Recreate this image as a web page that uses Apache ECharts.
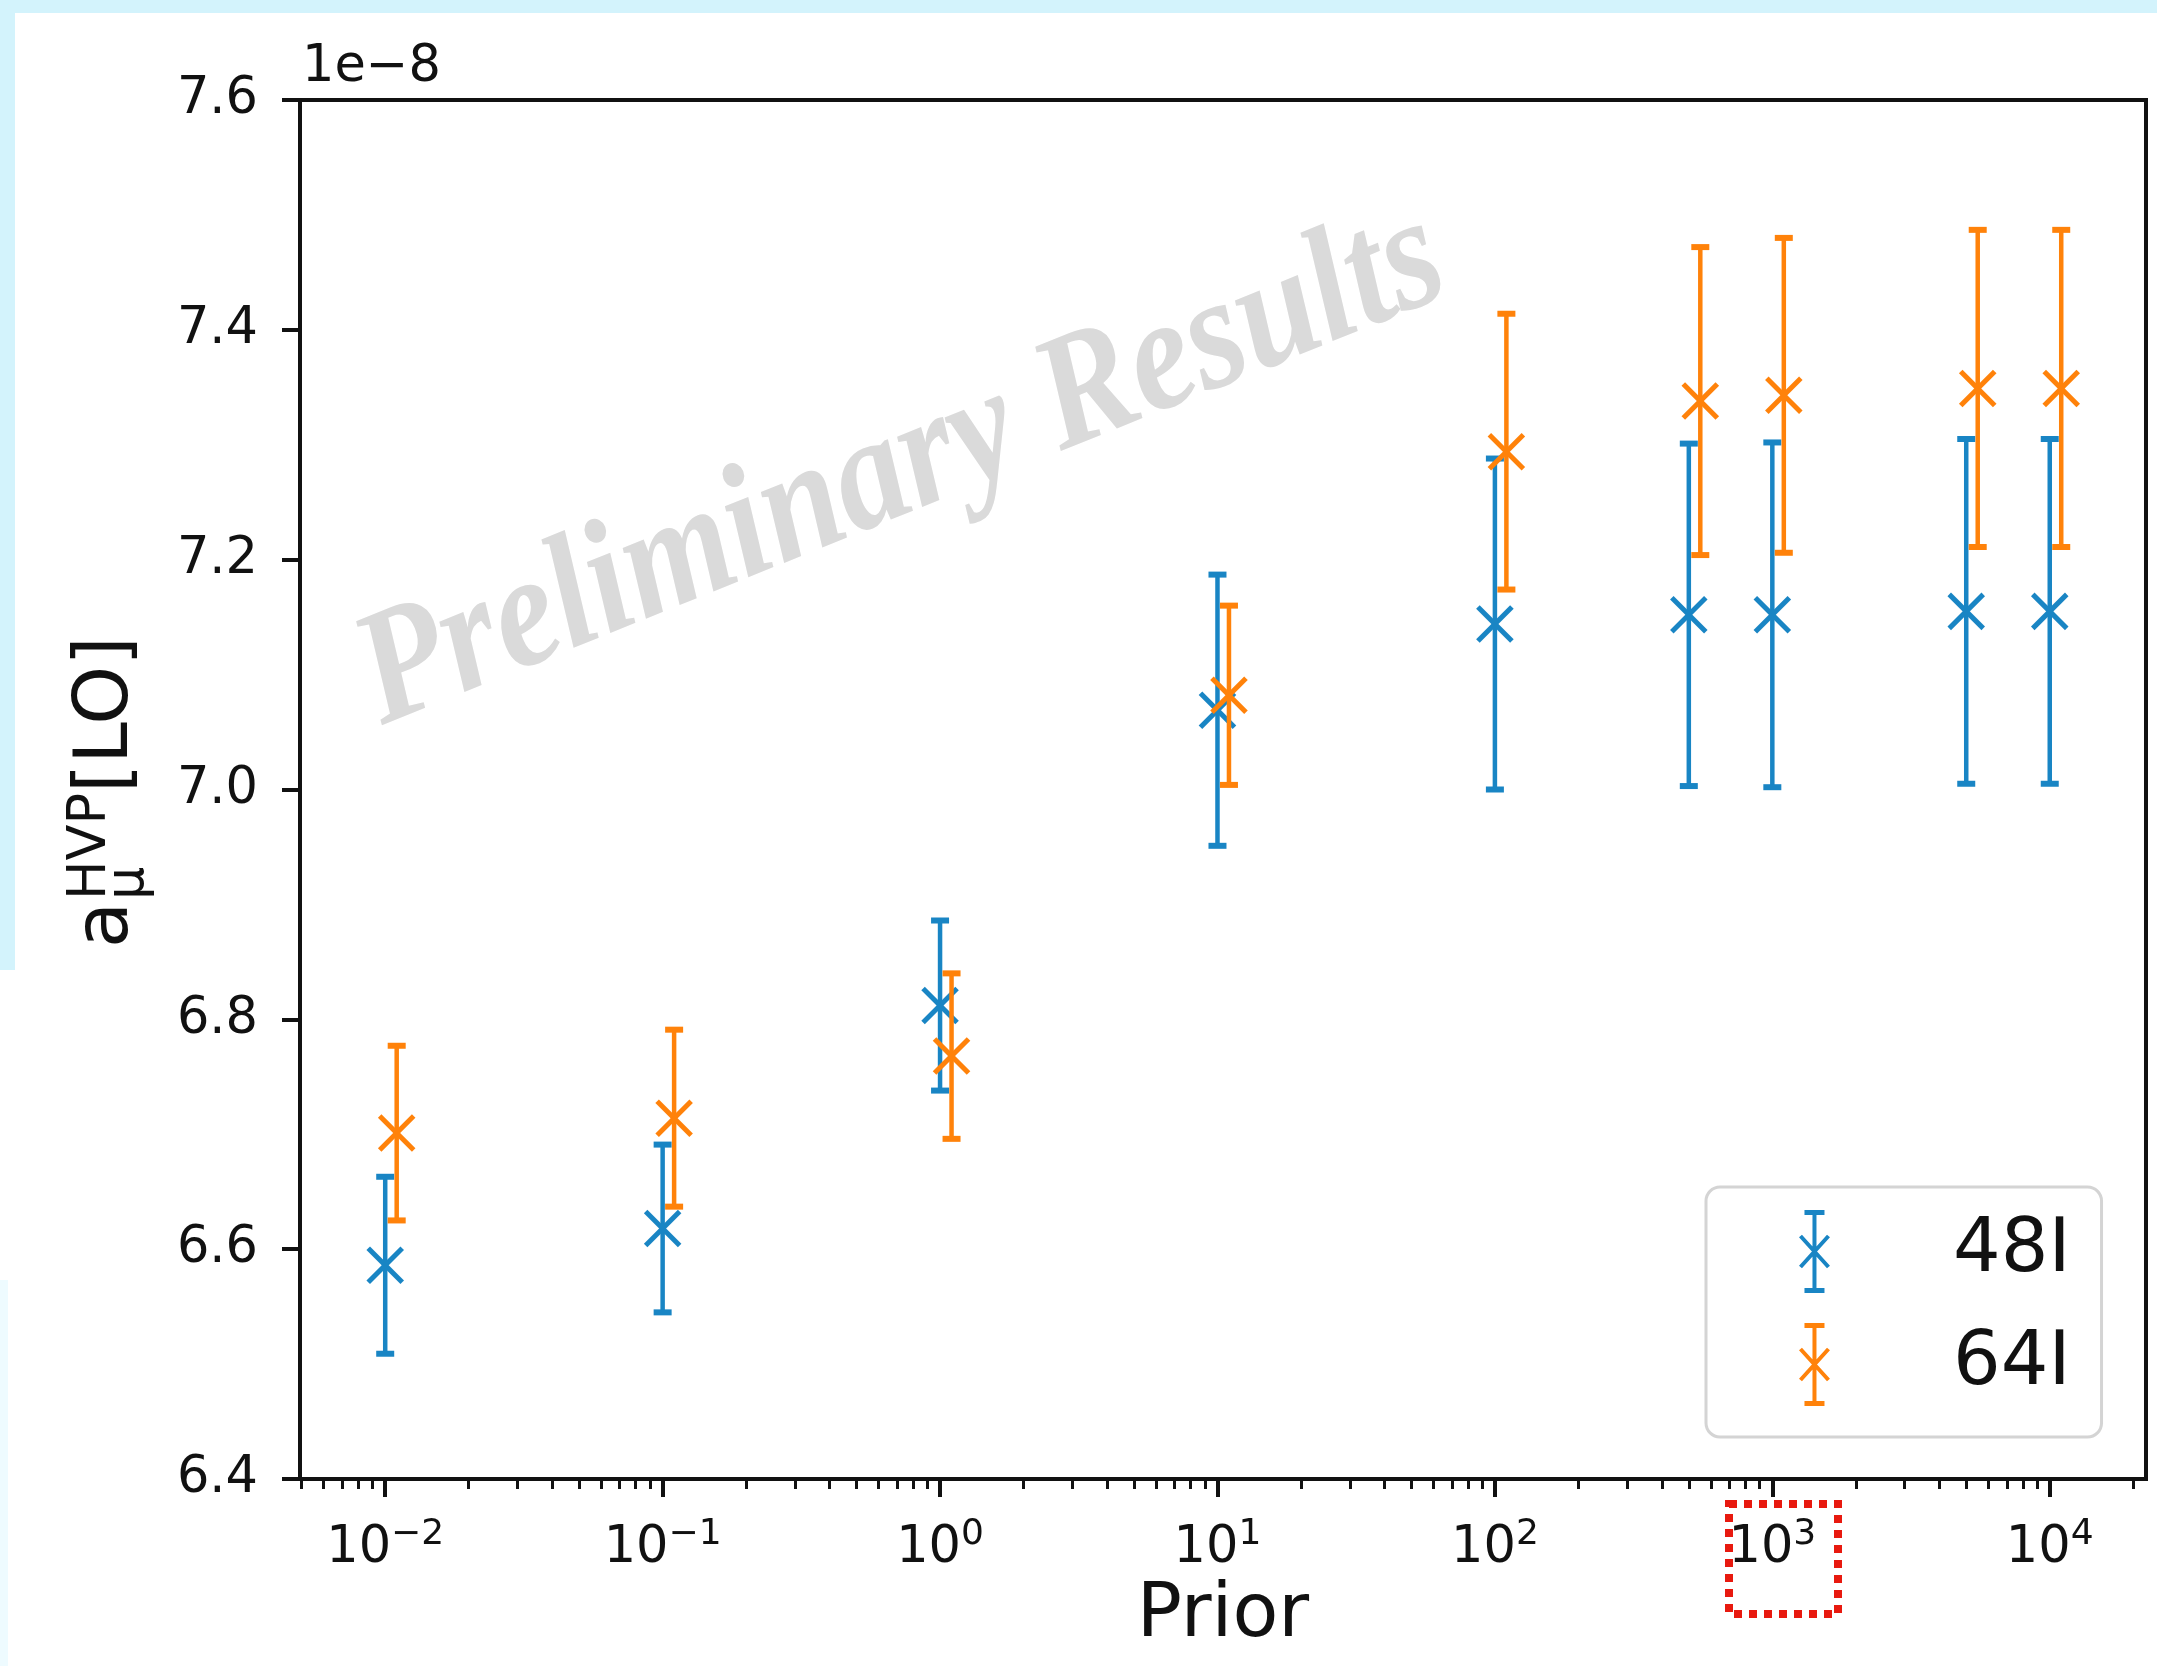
<!DOCTYPE html>
<html>
<head>
<meta charset="utf-8">
<title>a_mu HVP LO vs prior</title>
<script src="https://cdn.jsdelivr.net/npm/echarts@6/dist/echarts.min.js"></script>
<style>
  html, body { margin: 0; padding: 0; background: #d3f3fc; }
  #container { width: 2157px; height: 1666px; }
</style>
</head>
<body>
<div id="container"></div>
<script>
// values are in units of 1e-8 (offset text on the y axis)
const priors48 = [0.01, 0.1, 1, 10, 100, 500, 1000, 5000, 10000];
const vals48   = [6.586, 6.618, 6.812, 7.069, 7.144, 7.152, 7.152, 7.155, 7.155];
const errs48   = [0.077, 0.073, 0.074, 0.118, 0.144, 0.149, 0.150, 0.150, 0.150];

// 64I points are drawn slightly to the right of the 48I ones
const priors64 = [0.011, 0.11, 1.1, 11, 110, 550, 1100, 5500, 11000];
const vals64   = [6.701, 6.714, 6.768, 7.082, 7.294, 7.338, 7.343, 7.349, 7.349];
const errs64   = [0.076, 0.077, 0.072, 0.078, 0.120, 0.134, 0.137, 0.138, 0.138];

const seriesNames = ['48I', '64I'];
const majorTicks = [0.01, 0.1, 1, 10, 100, 1000, 10000];
const minorTicks = [
  0.005, 0.006, 0.007, 0.008, 0.009,
  0.02, 0.03, 0.04, 0.05, 0.06, 0.07, 0.08, 0.09,
  0.2, 0.3, 0.4, 0.5, 0.6, 0.7, 0.8, 0.9,
  2, 3, 4, 5, 6, 7, 8, 9,
  20, 30, 40, 50, 60, 70, 80, 90,
  200, 300, 400, 500, 600, 700, 800, 900,
  2000, 3000, 4000, 5000, 6000, 7000, 8000, 9000,
  20000
];

const BLUE = '#1985c4';
const ORANGE = '#ff820a';
const FONT = 'DejaVu Sans';

// errorbar + x marker as a legend icon
const legendIcon = 'path://M15,0H19V83H15Z M7,0H27V5H7Z M7,78H27V83H7Z ' +
  'M4.48,24.66L32.48,55.66L29.52,58.34L1.52,27.34Z ' +
  'M32.48,27.34L4.48,58.34L1.52,55.66L29.52,24.66Z';

function zip(xs, ys, es) {
  return xs.map((x, i) => [x, ys[i], es[i]]);
}

function errorbarRenderer(color) {
  return function (params, api) {
    const x = api.value(0), y = api.value(1), e = api.value(2);
    const top = api.coord([x, y + e]);
    const bot = api.coord([x, y - e]);
    const c = api.coord([x, y]);
    const cap = 9, m = 17;
    const st = { stroke: color, lineWidth: 4.5 };
    const capSt = { stroke: color, lineWidth: 6 };
    return {
      type: 'group',
      children: [
        { type: 'line', shape: { x1: top[0], y1: top[1], x2: bot[0], y2: bot[1] }, style: st },
        { type: 'line', shape: { x1: top[0] - cap, y1: top[1], x2: top[0] + cap, y2: top[1] }, style: capSt },
        { type: 'line', shape: { x1: bot[0] - cap, y1: bot[1], x2: bot[0] + cap, y2: bot[1] }, style: capSt },
        { type: 'line', shape: { x1: c[0] - m, y1: c[1] - m, x2: c[0] + m, y2: c[1] + m }, style: { stroke: color, lineWidth: 5 } },
        { type: 'line', shape: { x1: c[0] - m, y1: c[1] + m, x2: c[0] + m, y2: c[1] - m }, style: { stroke: color, lineWidth: 5 } }
      ]
    };
  };
}

function expLabel(v) {
  const e = Math.round(Math.log10(v));
  return '{b|10}{s|' + (e < 0 ? '\u2212' + (-e) : e) + '}';
}

let dom = document.getElementById('container');
let myChart = echarts.init(dom, null, { renderer: 'canvas' });

const yFs = 75, supFs = 52.5;
const mid = 0.346;

let option = {
  backgroundColor: '#d3f3fc',
  animation: false,
  grid: {
    left: 300, right: 11, top: 100, bottom: 187,
    show: true, borderColor: '#111', borderWidth: 4, backgroundColor: 'transparent'
  },
  xAxis: [{
    type: 'log',
    logBase: 10,
    min: 0.00493,
    max: 22230,
    name: 'Prior',
    nameLocation: 'middle',
    nameGap: 100,
    nameTextStyle: { fontFamily: FONT, fontSize: 75, color: '#111' },
    axisLine: { show: true, onZero: false, lineStyle: { color: '#111', width: 4 } },
    axisTick: { show: true, length: 18, lineStyle: { color: '#111', width: 4 }, customValues: majorTicks },
    axisLabel: {
      customValues: majorTicks,
      margin: 38,
      formatter: expLabel,
      rich: {
        b: { fontFamily: FONT, fontSize: 51, color: '#111', lineHeight: 64 },
        s: { fontFamily: FONT, fontSize: 36, color: '#111', lineHeight: 32, verticalAlign: 'top' }
      }
    },
    splitLine: { show: false },
    minorTick: { show: false }
  }, {
    type: 'log',
    logBase: 10,
    gridIndex: 0,
    position: 'bottom',
    min: 0.00493,
    max: 22230,
    axisLine: { show: false },
    axisTick: { show: true, length: 10, lineStyle: { color: '#111', width: 3 }, customValues: minorTicks },
    axisLabel: { show: false },
    splitLine: { show: false }
  }],
  yAxis: {
    type: 'value',
    min: 6.4,
    max: 7.6,
    interval: 0.2,
    axisLine: { show: true, lineStyle: { color: '#111', width: 4 } },
    axisTick: { show: true, length: 18, lineStyle: { color: '#111', width: 4 } },
    axisLabel: {
      margin: 42,
      fontFamily: FONT,
      fontSize: 51,
      color: '#111',
      formatter: function (v) { return v.toFixed(1); }
    },
    splitLine: { show: false }
  },
  legend: {
    orient: 'vertical',
    left: 1706,
    top: 1187,
    padding: [23, 31, 31, 93],
    itemGap: 30,
    itemWidth: 31,
    itemHeight: 83,
    backgroundColor: 'rgba(255,255,255,0.85)',
    borderColor: '#d4d4d4',
    borderWidth: 3,
    borderRadius: 14,
    data: [
      { name: seriesNames[0], icon: legendIcon, itemStyle: { color: BLUE } },
      { name: seriesNames[1], icon: legendIcon, itemStyle: { color: ORANGE } }
    ],
    formatter: function (name) { return '{t|' + name + '}'; },
    textStyle: {
      rich: { t: { fontFamily: FONT, fontSize: 75, color: '#111', padding: [0, 0, 0, 118] } }
    }
  },
  series: [{
    name: seriesNames[0],
    type: 'custom',
    xAxisIndex: 0,
    yAxisIndex: 0,
    itemStyle: { color: BLUE },
    renderItem: errorbarRenderer(BLUE),
    encode: { x: 0, y: 1 },
    data: zip(priors48, vals48, errs48),
    z: 3
  }, {
    name: seriesNames[1],
    type: 'custom',
    xAxisIndex: 0,
    yAxisIndex: 0,
    itemStyle: { color: ORANGE },
    renderItem: errorbarRenderer(ORANGE),
    encode: { x: 0, y: 1 },
    data: zip(priors64, vals64, errs64),
    z: 4
  }],
  graphic: {
    elements: [
      // white page area over the cyan screenshot border
      { type: 'rect', z: -10, shape: { x: 15, y: 13, width: 2142, height: 1653 }, style: { fill: '#ffffff' } },
      { type: 'rect', z: -10, shape: { x: 0, y: 970, width: 15, height: 696 }, style: { fill: '#ffffff' } },
      { type: 'rect', z: -10, shape: { x: 0, y: 1280, width: 8, height: 386 }, style: { fill: '#eefbff' } },
      // watermark
      {
        type: 'text', z: 0, x: 902, y: 470, rotation: 22 * Math.PI / 180, scaleY: 1.15,
        style: {
          text: 'Preliminary Results', x: 0, y: 0, align: 'center', verticalAlign: 'middle',
          fontFamily: '"Liberation Serif", "Times New Roman", serif', fontStyle: 'italic', fontWeight: 'bold', fontSize: 141,
          fill: '#dadada'
        }
      },
      // offset text
      {
        type: 'text', z: 5, x: 302, y: 85 - mid * 51,
        style: { text: '1e\u22128', fontFamily: FONT, fontSize: 51, fill: '#111', align: 'left', verticalAlign: 'middle' }
      },
      // y axis label: a_mu^HVP[LO]
      {
        type: 'group', z: 5, x: 133, y: 948, rotation: Math.PI / 2,
        children: [
          { type: 'text', x: 0, y: -mid * yFs, style: { text: 'a', fontFamily: FONT, fontSize: yFs, fill: '#111', verticalAlign: 'middle' } },
          { type: 'text', x: 48, y: -23 - mid * supFs, style: { text: 'HVP', fontFamily: FONT, fontSize: supFs, fill: '#111', verticalAlign: 'middle' } },
          { type: 'text', x: 48, y: 15 - mid * supFs, style: { text: '\u03bc', fontFamily: FONT, fontSize: supFs, fill: '#111', verticalAlign: 'middle' } },
          { type: 'text', x: 155, y: -mid * yFs, style: { text: '[LO]', fontFamily: FONT, fontSize: yFs, fill: '#111', verticalAlign: 'middle' } }
        ]
      },
      // red dotted highlight around the 10^3 label
      {
        type: 'rect', z: 6, shape: { x: 1729, y: 1504, width: 109, height: 110 },
        style: { fill: 'none', stroke: '#e8190f', lineWidth: 8, lineDash: [8, 7] }
      }
    ]
  }
};

myChart.setOption(option);
</script>
</body>
</html>
